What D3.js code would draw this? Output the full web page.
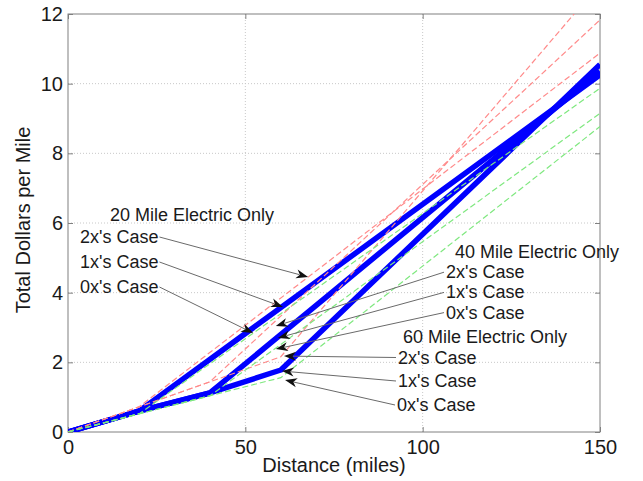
<!DOCTYPE html>
<html>
<head>
<meta charset="utf-8">
<script src="https://cdn.jsdelivr.net/npm/d3@7"></script>
<style>
  body { margin: 0; background: #fff; }
  svg { font-family: "Liberation Sans", Arial, sans-serif; }
</style>
</head>
<body>
<div id="chart-area"></div>
<script>
// distances (miles) and total dollars per mile
let blue20X = [0, 20, 150];
let blue20Y = [0, 0.6, 10.25];
let blue40X = [0, 20, 40, 150];
let blue40Y = [0, 0.6, 1.12, 10.35];
let blue60X = [0, 20, 40, 60, 150];
let blue60Y = [0, 0.6, 1.12, 1.78, 10.55];

// 2x's case (red dashed)
let red20X = [0, 20, 150];
let red20Y = [0, 0.72, 10.88];
let red40X = [0, 40, 150];
let red40Y = [0, 1.44, 11.83];
let red60X = [0, 60, 150];
let red60Y = [0, 2.16, 12.87];

// 0x's case (green dashed)
let green20X = [0, 20, 150];
let green20Y = [0, 0.52, 9.87];
let green40X = [0, 40, 150];
let green40Y = [0, 1.04, 9.15];
let green60X = [0, 60, 150];
let green60Y = [0, 1.56, 8.77];

let xTicks = [0, 50, 100, 150];
let yTicks = [0, 2, 4, 6, 8, 10, 12];

let groupTitles = ["20 Mile Electric Only", "40 Mile Electric Only", "60 Mile Electric Only"];
let caseLabels = ["2x's Case", "1x's Case", "0x's Case"];

let width = 643;
let height = 481;
let margin = { left: 68, right: 43, top: 14, bottom: 49 };
let w = width - margin.left - margin.right;
let h = height - margin.top - margin.bottom;

let svg = d3.select("#chart-area")
    .append("svg")
    .attr("width", width)
    .attr("height", height);

let g = svg.append("g")
    .attr("transform", "translate(" + margin.left + "," + margin.top + ")");

let x = d3.scaleLinear().domain([0, 150]).range([0, w]);
let y = d3.scaleLinear().domain([0, 12]).range([h, 0]);

// grid
g.append("g").selectAll("line")
    .data(xTicks.slice(1, -1))
    .enter().append("line")
    .attr("x1", d => x(d)).attr("x2", d => x(d))
    .attr("y1", 0).attr("y2", h)
    .attr("stroke", "#c8c8c8").attr("stroke-dasharray", "1,2");
g.append("g").selectAll("line")
    .data(yTicks.slice(1, -1))
    .enter().append("line")
    .attr("y1", d => y(d)).attr("y2", d => y(d))
    .attr("x1", 0).attr("x2", w)
    .attr("stroke", "#c8c8c8").attr("stroke-dasharray", "1,2");

// axes, ticks pointing inward
let xAxis = d3.axisBottom(x).tickValues(xTicks).tickSize(-5).tickPadding(8);
let yAxis = d3.axisLeft(y).tickValues(yTicks).tickSize(-5).tickPadding(5);

g.append("g")
    .attr("class", "x-axis")
    .attr("transform", "translate(0," + h + ")")
    .call(xAxis);
g.append("g")
    .attr("class", "y-axis")
    .call(yAxis);
g.append("g")
    .call(d3.axisTop(x).tickValues(xTicks).tickSize(-5).tickFormat(""));
g.append("g")
    .attr("transform", "translate(" + w + ",0)")
    .call(d3.axisRight(y).tickValues(yTicks).tickSize(-5).tickFormat(""));

g.selectAll(".domain").remove();
g.selectAll(".tick line").attr("stroke", "#808080");
g.selectAll(".tick text").attr("font-size", 20).attr("fill", "#1a1a1a")
    .style("font-family", "'Liberation Sans', Arial, sans-serif");

g.append("rect")
    .attr("width", w).attr("height", h)
    .attr("fill", "none").attr("stroke", "#808080");

// clip
svg.append("clipPath").attr("id", "plot-clip")
    .append("rect").attr("width", w).attr("height", h);

let lines = g.append("g").attr("clip-path", "url(#plot-clip)");
let line = d3.line().x(d => x(d[0])).y(d => y(d[1]));
let pairs = (xs, ys) => xs.map((v, i) => [v, ys[i]]);

[[blue20X, blue20Y], [blue40X, blue40Y], [blue60X, blue60Y]].forEach(s => {
    lines.append("path")
        .attr("d", line(pairs(s[0], s[1])))
        .attr("fill", "none")
        .attr("stroke", "#0000ff")
        .attr("stroke-width", 5.5)
        .attr("stroke-linejoin", "round");
});

[[red20X, red20Y], [red40X, red40Y], [red60X, red60Y]].forEach(s => {
    lines.append("path")
        .attr("d", line(pairs(s[0], s[1])))
        .attr("fill", "none")
        .attr("stroke", "#ff8a8a")
        .attr("stroke-width", 1.2)
        .attr("stroke-dasharray", "6,3");
});

[[green20X, green20Y], [green40X, green40Y], [green60X, green60Y]].forEach(s => {
    lines.append("path")
        .attr("d", line(pairs(s[0], s[1])))
        .attr("fill", "none")
        .attr("stroke", "#7fe87f")
        .attr("stroke-width", 1.2)
        .attr("stroke-dasharray", "6,3");
});

// axis labels
svg.append("text")
    .attr("x", margin.left + w / 2)
    .attr("y", 472)
    .attr("text-anchor", "middle")
    .attr("font-size", 20)
    .attr("fill", "#1a1a1a")
    .text("Distance (miles)");

svg.append("text")
    .attr("transform", "rotate(-90)")
    .attr("x", -220)
    .attr("y", 30)
    .attr("text-anchor", "middle")
    .attr("font-size", 20)
    .attr("fill", "#1a1a1a")
    .text("Total Dollars per Mile");

// annotations: title + three case labels with arrows to the curves
let annotations = [
    { title: [110, 221], labels: [[80, 243], [80, 268], [80, 293]], from: "end",
      tips: [[67.7, 4.45], [60.6, 3.59], [52.2, 2.84]] },
    { title: [455, 258], labels: [[446, 278.2], [446, 298.4], [446, 318.6]], from: "start",
      tips: [[58.6, 3.04], [59.2, 2.70], [58.6, 2.38]] },
    { title: [403, 343], labels: [[398, 363.5], [398, 387], [397, 411]], from: "start",
      tips: [[60.9, 2.18], [60.3, 1.75], [61.2, 1.49]] }
];

let ann = svg.append("g");
annotations.forEach((a, gi) => {
    ann.append("text")
        .attr("x", a.title[0]).attr("y", a.title[1])
        .attr("font-size", 18).attr("fill", "#1a1a1a")
        .text(groupTitles[gi]);
    a.labels.forEach((p, i) => {
        let t = ann.append("text")
            .attr("x", p[0]).attr("y", p[1])
            .attr("font-size", 18).attr("fill", "#1a1a1a")
            .text(caseLabels[i]);
        let tw = t.node().getComputedTextLength();
        let sx = a.from === "end" ? p[0] + tw + 1 : p[0] - 2;
        let sy = p[1] - 6;
        let tx = margin.left + x(a.tips[i][0]);
        let ty = margin.top + y(a.tips[i][1]);
        let ang = Math.atan2(ty - sy, tx - sx);
        let back = 9;
        ann.append("line")
            .attr("x1", sx).attr("y1", sy)
            .attr("x2", tx - back * Math.cos(ang)).attr("y2", ty - back * Math.sin(ang))
            .attr("stroke", "#6a6a6a").attr("stroke-width", 1);
        ann.append("path")
            .attr("d", "M0,0L-12,-4.5L-8.5,0L-12,4.5Z")
            .attr("transform", "translate(" + tx + "," + ty + ") rotate(" + (ang * 180 / Math.PI) + ")")
            .attr("fill", "#111");
    });
});
</script>
</body>
</html>
